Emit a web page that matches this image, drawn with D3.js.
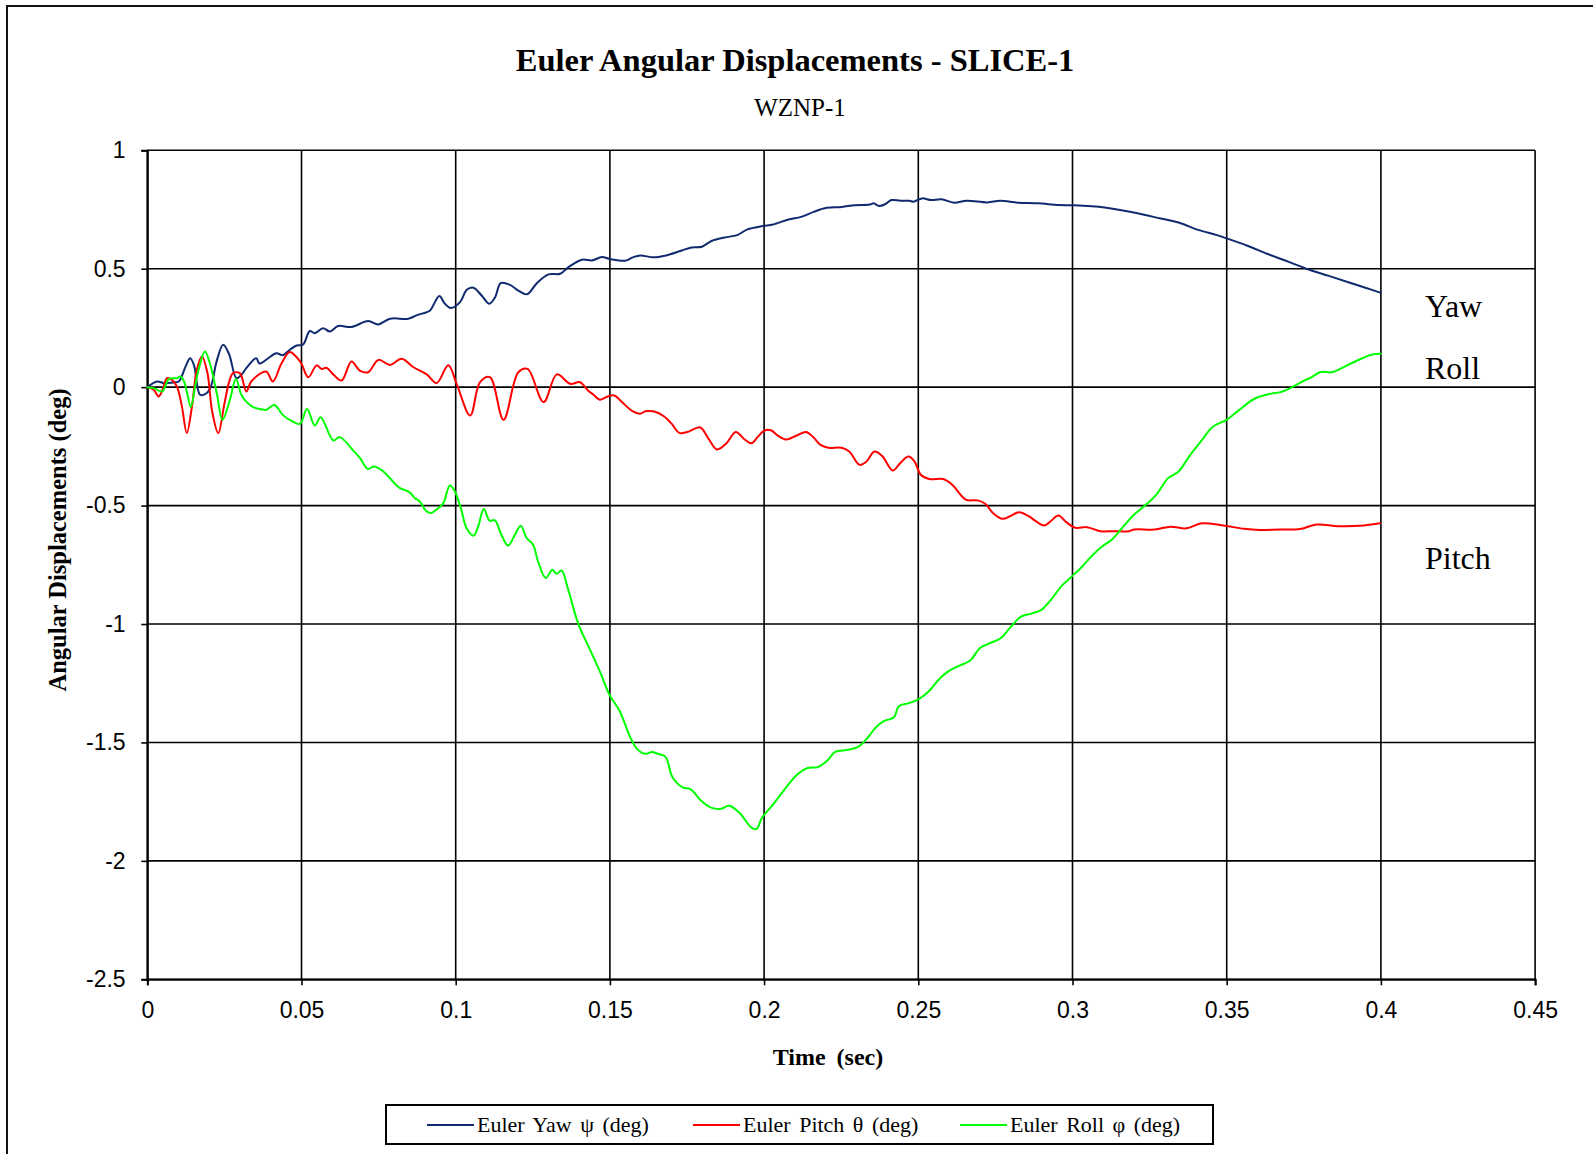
<!DOCTYPE html>
<html>
<head>
<meta charset="utf-8">
<script src="https://cdn.jsdelivr.net/npm/d3@7"></script>
<style>
  html, body { margin: 0; padding: 0; background: #fff; }
  svg { display: block; }
</style>
</head>
<body>
<svg id="chart" width="1593" height="1154"></svg>
<script>
// Euler angle time histories, [time (sec), angle (deg)]
const yawData = [
  [0,0],[0.0032,0.024],[0.0054,0.017],[0.0086,0.02],[0.0102,0.024],[0.0125,0.09],[0.0139,0.122],[0.0152,0.09],
  [0.0171,-0.032],[0.0193,-0.025],[0.0208,0.01],[0.0225,0.11],[0.0246,0.179],[0.0265,0.14],[0.0289,0.038],
  [0.0305,0.052],[0.0321,0.08],[0.0353,0.122],[0.0364,0.10],[0.039,0.12],[0.0418,0.143],[0.044,0.135],
  [0.0462,0.158],[0.0484,0.176],[0.0505,0.180],[0.0527,0.237],[0.0543,0.228],[0.057,0.249],[0.0592,0.235],
  [0.0619,0.258],[0.0662,0.254],[0.0716,0.279],[0.0749,0.265],[0.0787,0.289],[0.0846,0.289],[0.0873,0.303],
  [0.0917,0.324],[0.0927,0.345],[0.0947,0.385],[0.0965,0.352],[0.0984,0.334],[0.1014,0.359],[0.1036,0.411],
  [0.1057,0.420],[0.1084,0.387],[0.1109,0.352],[0.1128,0.380],[0.1146,0.439],[0.1176,0.432],[0.1203,0.408],
  [0.1231,0.392],[0.1263,0.439],[0.1301,0.476],[0.1339,0.479],[0.1366,0.507],[0.1409,0.538],[0.1442,0.535],
  [0.1474,0.549],[0.15,0.541],[0.155,0.534],[0.1574,0.548],[0.1599,0.556],[0.1641,0.548],[0.1682,0.556],
  [0.1731,0.576],[0.1765,0.590],[0.1798,0.593],[0.1831,0.618],[0.1872,0.632],[0.1913,0.642],[0.1946,0.666],
  [0.1996,0.680],[0.2029,0.687],[0.2079,0.708],[0.212,0.719],[0.2161,0.740],[0.2203,0.757],[0.2252,0.761],
  [0.2294,0.768],[0.2343,0.771],[0.2355,0.776],[0.2373,0.765],[0.2393,0.773],[0.2413,0.790],[0.2442,0.787],
  [0.2472,0.787],[0.2484,0.783],[0.2512,0.797],[0.2542,0.790],[0.2575,0.793],[0.2616,0.779],[0.2657,0.787],
  [0.2724,0.780],[0.2765,0.787],[0.2823,0.779],[0.2889,0.776],[0.2955,0.769],[0.3,0.768],[0.3104,0.759],
  [0.3203,0.736],[0.3286,0.712],[0.3344,0.695],[0.341,0.663],[0.3468,0.642],[0.35,0.628],[0.3567,0.597],
  [0.3633,0.562],[0.3699,0.530],[0.3765,0.497],[0.3831,0.470],[0.3897,0.442],[0.3947,0.421],[0.4,0.398]
];

const pitchData = [
  [0,0],[0.002,-0.01],[0.0037,-0.039],[0.005,-0.01],[0.0064,0.038],[0.008,0.03],[0.0096,0.003],[0.0112,-0.08],
  [0.0128,-0.194],[0.0145,-0.08],[0.016,0.07],[0.0177,0.129],[0.0195,0.06],[0.021,-0.1],[0.023,-0.194],
  [0.025,-0.07],[0.0265,0.02],[0.0278,0.059],[0.03,0.059],[0.0321,-0.018],[0.0337,0.024],[0.0385,0.066],
  [0.0407,0.024],[0.0435,0.10],[0.0462,0.148],[0.0485,0.125],[0.05,0.099],[0.0522,0.042],[0.0549,0.092],
  [0.0565,0.077],[0.0581,0.082],[0.0603,0.054],[0.063,0.028],[0.0662,0.108],[0.0689,0.070],[0.0716,0.063],
  [0.0749,0.115],[0.0787,0.094],[0.0825,0.120],[0.0862,0.085],[0.0906,0.054],[0.0938,0.017],[0.0976,0.092],
  [0.1003,0.014],[0.1047,-0.120],[0.1079,0.021],[0.1111,0.042],[0.1155,-0.138],[0.1203,0.063],[0.1233,0.077],
  [0.1285,-0.063],[0.1328,0.054],[0.1371,0.014],[0.1403,0.021],[0.1429,-0.014],[0.1446,-0.031],[0.1468,-0.053],
  [0.1488,-0.042],[0.1514,-0.035],[0.1539,-0.063],[0.1573,-0.101],[0.1598,-0.112],[0.1615,-0.102],[0.1641,-0.102],
  [0.1675,-0.123],[0.17,-0.154],[0.1725,-0.193],[0.1751,-0.189],[0.1793,-0.170],[0.1819,-0.216],[0.1847,-0.263],
  [0.1878,-0.237],[0.1908,-0.189],[0.1937,-0.221],[0.1959,-0.237],[0.198,-0.209],[0.2,-0.184],[0.2022,-0.182],
  [0.2047,-0.207],[0.2073,-0.221],[0.2107,-0.203],[0.2136,-0.189],[0.2158,-0.209],[0.2183,-0.244],[0.2208,-0.256],
  [0.2251,-0.256],[0.2276,-0.272],[0.231,-0.328],[0.2332,-0.314],[0.2358,-0.272],[0.2383,-0.291],[0.2417,-0.352],
  [0.2441,-0.321],[0.2468,-0.293],[0.2488,-0.314],[0.2508,-0.370],[0.2536,-0.388],[0.2581,-0.388],[0.261,-0.412],
  [0.2654,-0.475],[0.2692,-0.478],[0.2717,-0.492],[0.2742,-0.531],[0.2773,-0.556],[0.2797,-0.545],[0.2827,-0.528],
  [0.2858,-0.545],[0.2881,-0.566],[0.2908,-0.584],[0.2929,-0.566],[0.2954,-0.542],[0.298,-0.570],[0.301,-0.594],
  [0.3047,-0.591],[0.309,-0.608],[0.3132,-0.608],[0.3183,-0.608],[0.32,-0.601],[0.3267,-0.601],[0.3318,-0.589],
  [0.3369,-0.596],[0.342,-0.575],[0.3488,-0.584],[0.3556,-0.598],[0.3607,-0.603],[0.3674,-0.601],[0.3717,-0.601],
  [0.3742,-0.598],[0.3793,-0.580],[0.3861,-0.587],[0.3946,-0.584],[0.3997,-0.575]
];

const rollData = [
  [0,0],[0.0021,-0.004],[0.0048,-0.018],[0.007,0.034],[0.0096,0.038],[0.0107,0.045],[0.0118,0.028],[0.0128,-0.018],
  [0.0141,-0.084],[0.0155,0.003],[0.0166,0.073],[0.0187,0.151],[0.0203,0.101],[0.0225,-0.025],[0.0244,-0.138],
  [0.0268,-0.053],[0.0287,0.034],[0.0305,-0.032],[0.0321,-0.061],[0.0343,-0.084],[0.0369,-0.093],[0.0385,-0.096],
  [0.0412,-0.075],[0.0439,-0.117],[0.0471,-0.145],[0.0495,-0.155],[0.0518,-0.092],[0.0543,-0.162],[0.0562,-0.127],
  [0.0603,-0.225],[0.0624,-0.211],[0.0668,-0.268],[0.069,-0.30],[0.0715,-0.345],[0.0735,-0.335],[0.076,-0.35],
  [0.078,-0.375],[0.0805,-0.41],[0.0818,-0.425],[0.0851,-0.444],[0.0867,-0.468],[0.0883,-0.482],[0.0905,-0.524],
  [0.0921,-0.531],[0.0937,-0.517],[0.0959,-0.492],[0.0981,-0.415],[0.0997,-0.439],[0.1018,-0.517],[0.1035,-0.595],
  [0.1058,-0.627],[0.1073,-0.588],[0.1091,-0.514],[0.111,-0.564],[0.1127,-0.562],[0.1148,-0.623],[0.117,-0.669],
  [0.1192,-0.623],[0.1211,-0.585],[0.123,-0.637],[0.1251,-0.665],[0.1267,-0.736],[0.1292,-0.806],[0.1313,-0.771],
  [0.1327,-0.788],[0.1343,-0.774],[0.1365,-0.856],[0.1397,-0.997],[0.1435,-1.107],[0.1466,-1.196],[0.1499,-1.30],
  [0.1532,-1.368],[0.1565,-1.475],[0.1588,-1.527],[0.1614,-1.548],[0.1637,-1.54],[0.1655,-1.548],[0.168,-1.56],
  [0.1703,-1.647],[0.1736,-1.69],[0.1762,-1.698],[0.1795,-1.745],[0.1828,-1.775],[0.1861,-1.78],[0.1887,-1.767],
  [0.192,-1.797],[0.196,-1.861],[0.1976,-1.865],[0.1993,-1.818],[0.2026,-1.767],[0.2059,-1.711],[0.2108,-1.634],
  [0.2141,-1.608],[0.2174,-1.604],[0.2207,-1.574],[0.223,-1.54],[0.2273,-1.531],[0.2306,-1.518],[0.2339,-1.475],
  [0.2362,-1.437],[0.2388,-1.41],[0.2421,-1.394],[0.2437,-1.347],[0.247,-1.334],[0.2503,-1.316],[0.2536,-1.282],
  [0.2569,-1.231],[0.2602,-1.196],[0.2635,-1.175],[0.2668,-1.154],[0.2701,-1.10],[0.2734,-1.08],[0.2767,-1.06],
  [0.28,-1.012],[0.2833,-0.969],[0.2866,-0.956],[0.2899,-0.94],[0.2931,-0.896],[0.2964,-0.84],[0.2997,-0.80],
  [0.303,-0.759],[0.3063,-0.712],[0.3096,-0.673],[0.3129,-0.642],[0.3166,-0.587],[0.32,-0.538],[0.3242,-0.492],
  [0.3276,-0.447],[0.331,-0.384],[0.3344,-0.356],[0.3378,-0.293],[0.342,-0.223],[0.3454,-0.168],[0.3501,-0.137],
  [0.3539,-0.098],[0.359,-0.049],[0.3641,-0.028],[0.3674,-0.021],[0.3708,-0.003],[0.3751,0.028],[0.3771,0.039],
  [0.3804,0.064],[0.3844,0.064],[0.3887,0.09],[0.3936,0.12],[0.3969,0.137],[0.4,0.141]
];

const xTicks = [0, 0.05, 0.1, 0.15, 0.2, 0.25, 0.3, 0.35, 0.4, 0.45];
const yTicks = [1, 0.5, 0, -0.5, -1, -1.5, -2, -2.5];

const seriesNames = ["Euler Yaw \u03C8 (deg)", "Euler Pitch \u03B8 (deg)", "Euler Roll \u03C6 (deg)"];
const seriesColors = ["#0f2a6e", "#ff0000", "#00ff00"];
const endLabels = [
  { text: "Yaw", t: 0.4143, v: 0.296 },
  { text: "Roll", t: 0.4143, v: 0.034 },
  { text: "Pitch", t: 0.4143, v: -0.768 }
];

const svg = d3.select("#chart");
const W = 1593, H = 1154;
const plot = { left: 147.3, right: 1535.1, top: 150.3, bottom: 979.3 };

const x = d3.scaleLinear().domain([0, 0.45]).range([plot.left, plot.right]);
const y = d3.scaleLinear().domain([-2.5, 1]).range([plot.bottom, plot.top]);

const serif = "'Liberation Serif', 'Times New Roman', serif";
const sans = "'Liberation Sans', Arial, sans-serif";

// outer frame (open on the right and bottom)
svg.append("path")
  .attr("d", `M7,${H} L7,6 L${W},6`)
  .attr("fill", "none").attr("stroke", "#111").attr("stroke-width", 2);

// titles
svg.append("text").attr("x", 795).attr("y", 71).attr("text-anchor", "middle")
  .attr("font-family", serif).attr("font-weight", "bold").attr("font-size", 32.5)
  .text("Euler Angular Displacements - SLICE-1");
svg.append("text").attr("x", 800).attr("y", 116).attr("text-anchor", "middle")
  .attr("font-family", serif).attr("font-size", 25).text("WZNP-1");

// gridlines
const grid = svg.append("g").attr("stroke", "#000").attr("stroke-width", 1.6);
grid.selectAll("line.v").data(xTicks).join("line")
  .attr("x1", d => x(d)).attr("x2", d => x(d))
  .attr("y1", plot.top).attr("y2", plot.bottom);
grid.selectAll("line.h").data(yTicks).join("line")
  .attr("x1", plot.left).attr("x2", plot.right)
  .attr("y1", d => y(d)).attr("y2", d => y(d));

// axes
const fmt = d3.format("~g");
const xAxis = d3.axisBottom(x).tickValues(xTicks).tickSize(6).tickFormat(fmt);
const yAxis = d3.axisLeft(y).tickValues(yTicks).tickSize(6).tickFormat(d => fmt(d).replace("\u2212", "-"));

const gx = svg.append("g").attr("transform", `translate(0,${plot.bottom})`).call(xAxis);
const gy = svg.append("g").attr("transform", `translate(${plot.left},0)`).call(yAxis);
[gx, gy].forEach(g => {
  g.select(".domain").attr("stroke", "#000").attr("stroke-width", 2);
  g.selectAll(".tick line").attr("stroke", "#000").attr("stroke-width", 1.6);
  g.selectAll(".tick text").attr("font-family", sans).attr("font-size", 23).attr("fill", "#000");
});
gx.selectAll(".tick text").attr("dy", "1.3em");
gy.selectAll(".tick text").attr("dx", "-0.55em");

// axis titles
svg.append("text").attr("x", 828).attr("y", 1065).attr("text-anchor", "middle")
  .attr("font-family", serif).attr("font-weight", "bold").attr("font-size", 24)
  .attr("word-spacing", 5).text("Time (sec)");
svg.append("text")
  .attr("transform", `translate(66,540) rotate(-90)`).attr("text-anchor", "middle")
  .attr("font-family", serif).attr("font-weight", "bold").attr("font-size", 24.5)
  .text("Angular Displacements (deg)");

// data lines
const line = d3.line()
  .x(d => x(d[0])).y(d => y(d[1]))
  .curve(d3.curveCatmullRom.alpha(0.5));

const lines = svg.append("g").attr("fill", "none").attr("stroke-width", 2)
  .attr("stroke-linejoin", "round").attr("stroke-linecap", "round");
[yawData, pitchData, rollData].forEach((data, i) => {
  lines.append("path").attr("d", line(data)).attr("stroke", seriesColors[i]);
});

// labels on the right
svg.append("g").selectAll("text").data(endLabels).join("text")
  .attr("x", d => x(d.t)).attr("y", d => y(d.v))
  .attr("font-family", serif).attr("font-size", 32).attr("fill", "#000")
  .text(d => d.text);

// legend
const legend = svg.append("g");
legend.append("rect").attr("x", 386).attr("y", 1105).attr("width", 827).attr("height", 39)
  .attr("fill", "#fff").attr("stroke", "#000").attr("stroke-width", 2);
const legendX = [427, 693, 960];
seriesNames.forEach((name, i) => {
  legend.append("line").attr("x1", legendX[i]).attr("x2", legendX[i] + 47)
    .attr("y1", 1125).attr("y2", 1125).attr("stroke", seriesColors[i]).attr("stroke-width", 2);
  legend.append("text").attr("x", legendX[i] + 50).attr("y", 1132)
    .attr("font-family", serif).attr("font-size", 22).attr("fill", "#000")
    .attr("word-spacing", 3).text(name);
});
</script>
</body>
</html>
